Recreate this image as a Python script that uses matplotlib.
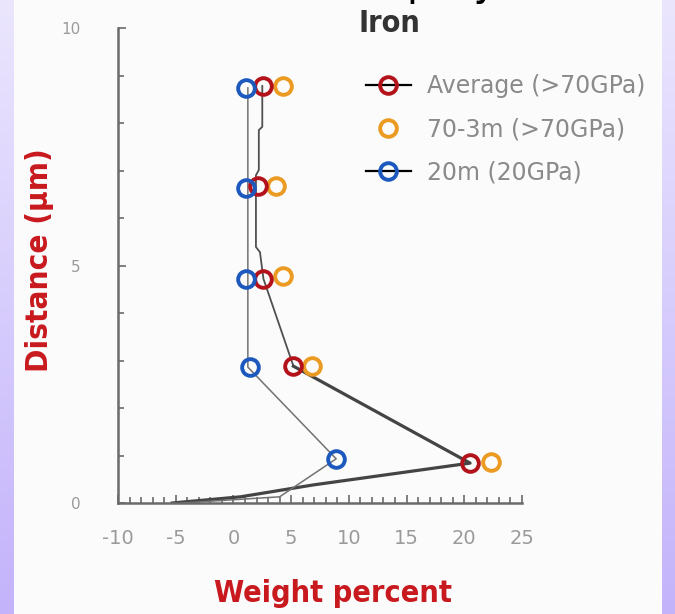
import numpy as np
import matplotlib
matplotlib.use("Agg")
import matplotlib.pyplot as plt
from matplotlib.lines import Line2D
from matplotlib.ticker import MultipleLocator

# data
depth = [8.78, 6.67, 4.72, 2.88, 0.84]
avg_wt = [2.6, 2.1, 2.6, 5.2, 20.5]
m70_wt = [4.3, 3.7, 4.3, 6.8, 22.3]
m70_depth = [8.78, 6.67, 4.78, 2.88, 0.86]
m20_wt = [1.1, 1.1, 1.1, 1.4, 8.9]
m20_depth = [8.74, 6.63, 4.72, 2.86, 0.93]

# profile curves behind the markers
avg_curve_x = [2.5, 2.5, 2.2, 2.2, 1.95, 1.95, 2.3, 2.6, 5.2, 20.5, 6.9, 0.6, -5.3]
avg_curve_y = [8.78, 7.92, 7.85, 7.01, 6.9, 5.39, 5.28, 4.72, 2.88, 0.84, 0.38, 0.13, 0.0]
m20_curve_x = [1.25, 1.25, 8.9, 4.0, -4.5]
m20_curve_y = [8.74, 2.86, 0.93, 0.13, 0.0]

labels = ['Average (>70GPa)', '70-3m (>70GPa)', '20m (20GPa)']
c_red = '#b3121b'
c_org = '#eb9a22'
c_blu = '#1c58bd'
c_lab = '#c8191e'

plt.rcParams['axes.unicode_minus'] = False
narrow = dict(family='DejaVu Sans', stretch='condensed')

fig = plt.figure(figsize=(6.75, 6.14), dpi=100, facecolor='#fbfbfb')

# purple side bands
grad = np.linspace(0, 1, 256).reshape(-1, 1)
cm = matplotlib.colors.LinearSegmentedColormap.from_list('band', ['#ebe6fe', '#c3b3fb'])
for left in [0, 662 / 675]:
    bx = fig.add_axes([left, 0, 14 / 675, 1])
    bx.imshow(grad, aspect='auto', cmap=cm, extent=[0, 1, 1, 0])
    bx.axis('off')

ax = fig.add_axes([118 / 675, 1 - 503 / 614, 404 / 675, 475 / 614])
ax.set_facecolor('none')

ax.plot(avg_curve_x[:9], avg_curve_y[:9], color='#505050', lw=1.3, zorder=2)
ax.plot(avg_curve_x[8:], avg_curve_y[8:], color='#444444', lw=2.3, zorder=2)
ax.plot(m20_curve_x, m20_curve_y, color='#727272', lw=1.1, zorder=2)

mk = dict(marker='o', ls='none', ms=12, mew=2.8, mfc='none', zorder=3)
ax.plot(m70_wt, m70_depth, mec=c_org, **mk)
ax.plot(avg_wt, depth, mec=c_red, **mk)
ax.plot(m20_wt, m20_depth, mec=c_blu, **mk)

ax.set_xlim(-10, 25)
ax.set_ylim(0, 10)
for s in ['top', 'right']:
    ax.spines[s].set_visible(False)
for s in ['left', 'bottom']:
    ax.spines[s].set_color('#6a6a6a')
    ax.spines[s].set_linewidth(1.8)

ax.xaxis.set_major_locator(MultipleLocator(5))
ax.xaxis.set_minor_locator(MultipleLocator(1))
ax.yaxis.set_major_locator(MultipleLocator(5))
ax.yaxis.set_minor_locator(MultipleLocator(1))
ax.tick_params(which='both', direction='in', color='#6a6a6a', width=1.2)
ax.tick_params(which='major', length=6)
ax.tick_params(which='minor', length=4)
ax.tick_params(axis='x', which='major', labelsize=14, labelcolor='#9a9a9a', pad=19)
ax.tick_params(axis='y', which='major', labelsize=11, labelcolor='#9a9a9a', pad=27)

fig.text(40 / 675, 1 - 260 / 614, 'Distance (µm)', rotation=90, color=c_lab,
         fontsize=22.5, fontweight='bold', ha='center', va='center', **narrow)
fig.text(333 / 675, 1 - 594 / 614, 'Weight percent', color=c_lab,
         fontsize=22, fontweight='bold', ha='center', va='center', **narrow)
fig.text(389 / 675, 1 - 24 / 614, 'Iron', color='#333333', fontsize=22,
         fontweight='bold', ha='center', va='center', **narrow)
# heading of the slide, cut off at the top edge
fig.text(380 / 675, 1 + 5.5 / 614, 'Metal spray', color='black',
         fontsize=32, ha='center', va='baseline', **narrow)

handles = [
    Line2D([], [], color='black', lw=1.6, marker='o', ms=12, mew=2.8, mfc='none', mec=c_red),
    Line2D([], [], color='none', marker='o', ms=12, mew=2.8, mfc='none', mec=c_org),
    Line2D([], [], color='black', lw=1.6, marker='o', ms=12, mew=2.8, mfc='none', mec=c_blu),
]
leg = fig.legend(handles, labels, loc='upper left', bbox_to_anchor=(366 / 675, 1 - 74 / 614),
                 frameon=False, fontsize=17, handlelength=1.9, handletextpad=0.7,
                 labelspacing=0.82, borderpad=0, borderaxespad=0)
for t in leg.get_texts():
    t.set_color('#8a8a8a')

fig.savefig('out.png', dpi=100, facecolor=fig.get_facecolor())
